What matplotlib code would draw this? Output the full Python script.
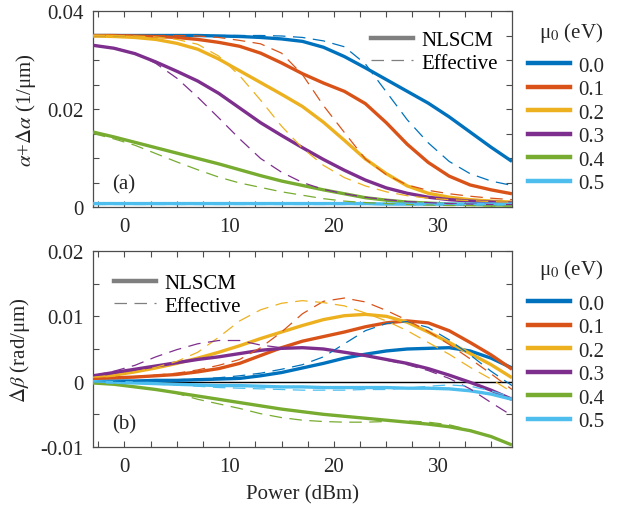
import matplotlib
matplotlib.use("Agg")
import matplotlib.pyplot as plt
from matplotlib.lines import Line2D
from matplotlib.ticker import MultipleLocator, FixedLocator, FixedFormatter

plt.rcParams["font.family"] = ["Liberation Serif", "DejaVu Serif"]
plt.rcParams["mathtext.fontset"] = "stix"
plt.rcParams["font.size"] = 15

# Input power grid (dBm)
power = [-3, -1, 1, 3, 5, 7, 9, 11, 13, 15, 17, 19, 21, 23, 25, 27, 29, 31, 33, 35, 37]

mu0_labels = ["0.0", "0.1", "0.2", "0.3", "0.4", "0.5"]
colors = ["#0072BD", "#D95319", "#EDB120", "#7E2F8E", "#77AC30", "#4DBEEE"]

# (a) attenuation alpha + delta alpha (1/um), NLSCM
alpha_nlscm_00 = [0.035, 0.035, 0.035, 0.035, 0.035, 0.035, 0.0349, 0.0348, 0.0346, 0.0343, 0.0338,
                  0.0326, 0.0307, 0.0284, 0.0260, 0.0236, 0.0212, 0.0184, 0.0153, 0.0122, 0.0093]
alpha_nlscm_01 = [0.035, 0.035, 0.0349, 0.0348, 0.0346, 0.0342, 0.0336, 0.0328, 0.0314, 0.0294, 0.0272,
                  0.0253, 0.0236, 0.0211, 0.0172, 0.0128, 0.0091, 0.0063, 0.0045, 0.0035, 0.0027]
alpha_nlscm_02 = [0.0349, 0.0348, 0.0346, 0.0342, 0.0334, 0.0322, 0.0302, 0.0278, 0.0254, 0.0230, 0.0205,
                  0.0173, 0.0136, 0.0098, 0.0068, 0.0043, 0.0028, 0.0020, 0.0015, 0.0012, 0.0010]
alpha_nlscm_03 = [0.0330, 0.0324, 0.0313, 0.0296, 0.0277, 0.0257, 0.0232, 0.0202, 0.0172, 0.0146, 0.0121,
                  0.0097, 0.0075, 0.0055, 0.0039, 0.0028, 0.0020, 0.0015, 0.0012, 0.0010, 0.0008]
alpha_nlscm_04 = [0.0153, 0.0143, 0.0132, 0.0121, 0.0110, 0.0099, 0.0088, 0.0076, 0.0064, 0.0053, 0.0044,
                  0.0035, 0.0027, 0.0019, 0.0014, 0.0010, 0.0008, 0.0006, 0.0005, 0.0004, 0.0004]
alpha_nlscm_05 = [0.0007, 0.0007, 0.0007, 0.0007, 0.0007, 0.0007, 0.0007, 0.0007, 0.0007, 0.0007, 0.0007,
                  0.0007, 0.0007, 0.0007, 0.0006, 0.0006, 0.0006, 0.0006, 0.0006, 0.0006, 0.0006]

# (a) attenuation, effective model
alpha_eff_00 = [0.035, 0.035, 0.035, 0.035, 0.035, 0.035, 0.035, 0.035, 0.035, 0.0349, 0.0346,
                0.0339, 0.0327, 0.0292, 0.0235, 0.0178, 0.0131, 0.0093, 0.0068, 0.0053, 0.0044]
alpha_eff_01 = [0.035, 0.035, 0.035, 0.035, 0.035, 0.0349, 0.0346, 0.0340, 0.0333, 0.0314, 0.0270,
                0.0207, 0.0152, 0.0098, 0.0066, 0.0045, 0.0034, 0.0027, 0.0022, 0.0018, 0.0015]
alpha_eff_02 = [0.035, 0.035, 0.0349, 0.0347, 0.0342, 0.0332, 0.0308, 0.0268, 0.0218, 0.0165, 0.0120,
                0.0085, 0.0060, 0.0043, 0.0031, 0.0023, 0.0018, 0.0015, 0.0013, 0.0011, 0.0010]
alpha_eff_03 = [0.0330, 0.0325, 0.0314, 0.0293, 0.0263, 0.0224, 0.0182, 0.0139, 0.0099, 0.0071, 0.0050,
                0.0036, 0.0027, 0.0020, 0.0015, 0.0011, 0.0009, 0.0007, 0.0006, 0.0005, 0.0005]
alpha_eff_04 = [0.0150, 0.0139, 0.0126, 0.0109, 0.0092, 0.0076, 0.0061, 0.0049, 0.0040, 0.0031, 0.0024,
                0.0017, 0.0012, 0.0009, 0.0007, 0.0005, 0.0004, 0.0003, 0.0003, 0.0002, 0.0002]
alpha_eff_05 = [0.0006] * 21

# (b) phase shift delta beta (rad/um), NLSCM
beta_nlscm_00 = [0.0001, 0.0001, 0.0001, 0.0002, 0.0002, 0.0003, 0.0004, 0.0005, 0.0009, 0.0014, 0.0021,
                 0.0028, 0.0036, 0.0042, 0.0047, 0.0050, 0.0051, 0.0052, 0.0047, 0.0036, 0.0021]
beta_nlscm_01 = [0.0005, 0.0006, 0.0007, 0.0009, 0.0011, 0.0015, 0.0020, 0.0028, 0.0040, 0.0052, 0.0062,
                 0.0069, 0.0076, 0.0084, 0.0090, 0.0093, 0.0090, 0.0078, 0.0060, 0.0041, 0.0019]
beta_nlscm_02 = [0.0007, 0.0010, 0.0015, 0.0021, 0.0028, 0.0036, 0.0045, 0.0055, 0.0066, 0.0076, 0.0086,
                 0.0095, 0.0101, 0.0103, 0.0100, 0.0091, 0.0076, 0.0060, 0.0043, 0.0026, 0.0006]
beta_nlscm_03 = [0.0009, 0.0014, 0.0019, 0.0024, 0.0029, 0.0034, 0.0038, 0.0043, 0.0048, 0.0051, 0.0052,
                 0.0050, 0.0045, 0.0040, 0.0034, 0.0028, 0.0020, 0.0010, -0.0001, -0.0013, -0.0027]
beta_nlscm_04 = [-0.0002, -0.0004, -0.0008, -0.0012, -0.0017, -0.0022, -0.0027, -0.0032, -0.0037, -0.0042, -0.0046,
                 -0.0050, -0.0053, -0.0056, -0.0059, -0.0062, -0.0065, -0.0069, -0.0075, -0.0084, -0.0097]
beta_nlscm_05 = [0.0, -0.0001, -0.0002, -0.0003, -0.0004, -0.0005, -0.0006, -0.0006, -0.0007, -0.0008, -0.0008,
                 -0.0009, -0.0009, -0.0009, -0.0009, -0.0010, -0.0010, -0.0011, -0.0014, -0.0019, -0.0027]

# (b) phase shift, effective model
beta_eff_00 = [0.0, 0.0, 0.0001, 0.0002, 0.0003, 0.0004, 0.0006, 0.0009, 0.0013, 0.0019, 0.0026,
               0.0038, 0.0058, 0.0078, 0.0089, 0.0092, 0.0083, 0.0064, 0.0041, 0.0016, -0.0006]
beta_eff_01 = [0.0005, 0.0006, 0.0008, 0.0010, 0.0013, 0.0018, 0.0025, 0.0034, 0.0052, 0.0076, 0.0104,
               0.0123, 0.0128, 0.0122, 0.0109, 0.0094, 0.0077, 0.0057, 0.0035, 0.0012, -0.0012]
beta_eff_02 = [0.0007, 0.0010, 0.0015, 0.0022, 0.0031, 0.0045, 0.0068, 0.0093, 0.0110, 0.0120, 0.0124,
               0.0121, 0.0116, 0.0105, 0.0093, 0.0078, 0.0060, 0.0042, 0.0022, 0.0004, -0.0016]
beta_eff_03 = [0.0009, 0.0016, 0.0025, 0.0038, 0.0049, 0.0058, 0.0063, 0.0063, 0.0056, 0.0052, 0.0052,
               0.0050, 0.0045, 0.0040, 0.0033, 0.0026, 0.0017, 0.0005, -0.0011, -0.0032, -0.0052]
beta_eff_04 = [-0.0002, -0.0004, -0.0008, -0.0012, -0.0018, -0.0027, -0.0034, -0.0041, -0.0049, -0.0055, -0.0059,
               -0.0061, -0.0062, -0.0062, -0.0061, -0.0060, -0.0062, -0.0066, -0.0074, -0.0084, -0.0097]
beta_eff_05 = [0.0, -0.0001, -0.0002, -0.0004, -0.0005, -0.0007, -0.0009, -0.0010, -0.0011, -0.0012, -0.0013,
               -0.0013, -0.0013, -0.0012, -0.0012, -0.0010, -0.0007, -0.0005, -0.0007, -0.0014, -0.0024]

alpha_nlscm = [alpha_nlscm_00, alpha_nlscm_01, alpha_nlscm_02, alpha_nlscm_03, alpha_nlscm_04, alpha_nlscm_05]
alpha_eff = [alpha_eff_00, alpha_eff_01, alpha_eff_02, alpha_eff_03, alpha_eff_04, alpha_eff_05]
beta_nlscm = [beta_nlscm_00, beta_nlscm_01, beta_nlscm_02, beta_nlscm_03, beta_nlscm_04, beta_nlscm_05]
beta_eff = [beta_eff_00, beta_eff_01, beta_eff_02, beta_eff_03, beta_eff_04, beta_eff_05]

TEXT = "#262626"
SPINE = "#4d4d4d"
W, H = 621, 506

fig = plt.figure(figsize=(W / 100, H / 100), dpi=100)
ax_a = fig.add_axes([93 / W, 1 - 208 / H, 419 / W, 196 / H])
ax_b = fig.add_axes([93 / W, 1 - 448 / H, 419 / W, 196 / H])


def style_axes(ax, yticks, yticklabels, ylim, ylabel, tag):
    ax.set_xlim(-3, 37)
    ax.set_ylim(*ylim)
    ax.xaxis.set_major_locator(FixedLocator([0, 10, 20, 30]))
    ax.xaxis.set_minor_locator(MultipleLocator(2.5))
    ax.yaxis.set_major_locator(FixedLocator(yticks))
    ax.yaxis.set_major_formatter(FixedFormatter(yticklabels))
    ax.yaxis.set_minor_locator(MultipleLocator(0.005))
    ax.tick_params(which="both", direction="in", top=True, right=True,
                   colors=SPINE, labelcolor=TEXT, labelsize=15, width=0.8)
    ax.tick_params(which="major", length=4, pad=7)
    ax.tick_params(which="minor", length=4)
    for s in ax.spines.values():
        s.set_color(SPINE)
        s.set_linewidth(0.9)
    ax.set_ylabel(ylabel, fontsize=15, color=TEXT, labelpad=6)
    ax.text(0.045, 0.12, tag, transform=ax.transAxes, fontsize=15, color=TEXT, va="center")


def draw_curves(ax, solid_sets, dashed_sets):
    for ys, c in zip(solid_sets, colors):
        ax.plot(power, ys, color=c, lw=2.4, solid_capstyle="butt", zorder=3)
    for ys, c in zip(dashed_sets, colors):
        ax.plot(power, ys, color=c, lw=0.9, ls=(0, (10, 6)), zorder=4)


draw_curves(ax_a, alpha_nlscm, alpha_eff)
style_axes(ax_a, [0, 0.02, 0.04], ["0", "0.02", "0.04"], (0, 0.04),
           r"$\alpha$+$\Delta\alpha$ (1/μm)", "(a)")

ax_b.axhline(0, color="black", lw=1.0, zorder=2)
draw_curves(ax_b, beta_nlscm, beta_eff)
style_axes(ax_b, [-0.01, 0, 0.01, 0.02], ["-0.01", "0", "0.01", "0.02"], (-0.01, 0.02),
           r"$\Delta\beta$ (rad/μm)", "(b)")
ax_b.set_xlabel("Power (dBm)", fontsize=15, color=TEXT, labelpad=6)

# Chemical potential legends to the right of each panel
mu_handles = [Line2D([], [], color=c, lw=3.2) for c in colors]
for ax, title_y, top_y in ((ax_a, 33, 57), (ax_b, 270, 295)):
    leg = ax.legend(mu_handles, mu0_labels, loc="upper left",
                    bbox_to_anchor=(528 / W, 1 - top_y / H), bbox_transform=fig.transFigure,
                    frameon=False, fontsize=15, handlelength=2.0,
                    handletextpad=0.4, labelspacing=0.19, borderpad=0, borderaxespad=0)
    for t in leg.get_texts():
        t.set_color(TEXT)
    ax.add_artist(leg)
    fig.text(571 / W, 1 - title_y / H, "μ$_0$ (eV)", ha="center", va="center",
             fontsize=15, color=TEXT)

# Model-style legends
style_handles = [Line2D([], [], color="#7f7f7f", lw=3.2),
                 Line2D([], [], color="#7f7f7f", lw=0.9, ls=(0, (10, 6)))]
style_labels = ["NLSCM", "Effective"]
ax_a.legend(style_handles, style_labels, loc="upper right", frameon=False,
            fontsize=15, handlelength=2.0, handletextpad=0.4, labelspacing=0.15,
            borderaxespad=0.3, bbox_to_anchor=(1.0, 0.975))
ax_b.legend(style_handles, style_labels, loc="upper left", frameon=False,
            fontsize=15, handlelength=2.0, handletextpad=0.4, labelspacing=0.15,
            borderaxespad=0.3, bbox_to_anchor=(0.016, 0.96))

fig.savefig("out.png", dpi=100)
